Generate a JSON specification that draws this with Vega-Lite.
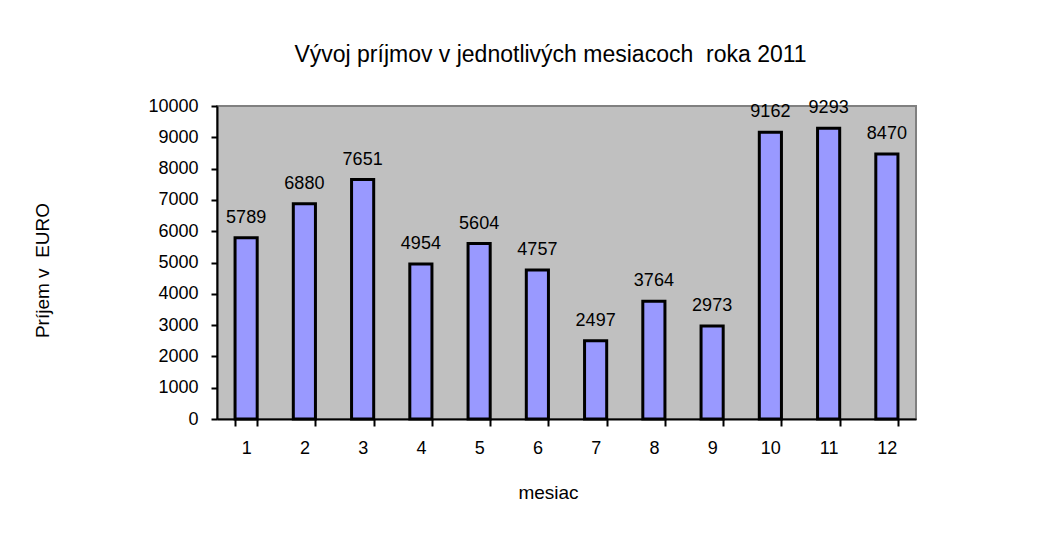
{
  "$schema": "https://vega.github.io/schema/vega-lite/v6.json",
  "width": 699,
  "height": 313,
  "autosize": {"type": "none"},
  "padding": {"left": 217, "top": 106, "right": 125, "bottom": 127},
  "background": "white",
  "title": {
    "text": "Vývoj príjmov v jednotlivých mesiacoch \u00a0roka 2011",
    "font": "Liberation Sans",
    "fontSize": 23,
    "fontWeight": "normal",
    "color": "black",
    "anchor": "middle",
    "frame": "group",
    "dx": -16,
    "offset": 30
  },
  "data": {
    "values": [
      {"mesiac": 1, "prijem": 5789},
      {"mesiac": 2, "prijem": 6880},
      {"mesiac": 3, "prijem": 7651},
      {"mesiac": 4, "prijem": 4954},
      {"mesiac": 5, "prijem": 5604},
      {"mesiac": 6, "prijem": 4757},
      {"mesiac": 7, "prijem": 2497},
      {"mesiac": 8, "prijem": 3764},
      {"mesiac": 9, "prijem": 2973},
      {"mesiac": 10, "prijem": 9162},
      {"mesiac": 11, "prijem": 9293},
      {"mesiac": 12, "prijem": 8470}
    ]
  },
  "encoding": {
    "x": {
      "field": "mesiac",
      "type": "ordinal",
      "scale": {"paddingInner": 0.62, "paddingOuter": 0.31},
      "axis": {
        "title": "mesiac",
        "titleFont": "Liberation Sans",
        "titleFontSize": 19,
        "titleFontWeight": "normal",
        "titleColor": "black",
        "titleX": 331,
        "titleY": 73,
        "titleBaseline": "middle",
        "labelAngle": 0,
        "labelFont": "Liberation Sans",
        "labelFontSize": 18,
        "labelColor": "black",
        "labelPadding": 13,
        "tickBand": "extent",
        "tickSize": 7,
        "tickColor": "black",
        "tickWidth": 2,
        "domainColor": "black",
        "domainWidth": 2
      }
    },
    "y": {
      "field": "prijem",
      "type": "quantitative",
      "scale": {"domain": [0, 10000], "nice": false},
      "axis": {
        "title": "Príjem v \u00a0EURO",
        "titleFont": "Liberation Sans",
        "titleFontSize": 19,
        "titleFontWeight": "normal",
        "titleColor": "black",
        "titleX": -175,
        "titleY": 164,
        "titleAlign": "center",
        "titleBaseline": "middle",
        "titleAngle": -90,
        "values": [0, 1000, 2000, 3000, 4000, 5000, 6000, 7000, 8000, 9000, 10000],
        "format": "d",
        "labelFont": "Liberation Sans",
        "labelFontSize": 18,
        "labelColor": "black",
        "labelPadding": 13,
        "tickSize": 6,
        "tickColor": "black",
        "tickWidth": 2,
        "domainColor": "black",
        "domainWidth": 2,
        "grid": false
      }
    }
  },
  "layer": [
    {
      "mark": {"type": "bar", "fill": "#9999FF", "stroke": "black", "strokeWidth": 3}
    },
    {
      "mark": {"type": "text", "baseline": "alphabetic", "dy": -15, "font": "Liberation Sans", "fontSize": 18, "color": "black"},
      "encoding": {"text": {"field": "prijem", "type": "quantitative", "format": "d"}}
    }
  ],
  "config": {
    "view": {"fill": "#C0C0C0", "stroke": "#808080", "strokeWidth": 2}
  }
}
